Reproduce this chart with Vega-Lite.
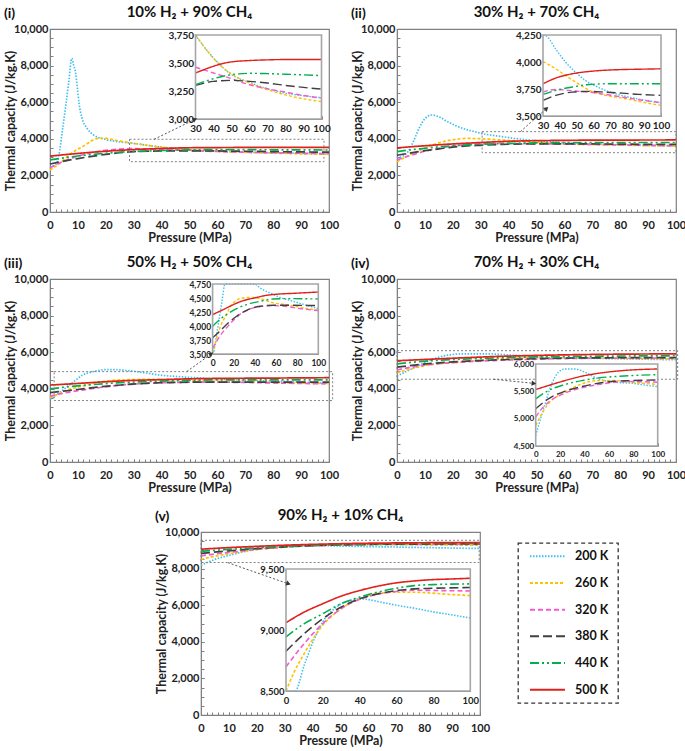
{
"$schema":"https://vega.github.io/schema/vega-lite/v6.json",
"padding":{"left":3,"top":4,"right":0,"bottom":0},
"background":"white",
"config":{
 "font":"Lato",
 "view":{"stroke":"#808080","strokeWidth":1.2},
 "axis":{"labelFont":"Lato","labelFontWeight":"bold","labelColor":"#222222","labelFontSize":11,"titleFont":"Lato","titleFontWeight":"bold","titleFontSize":12.5,"titleColor":"#222222","domainColor":"#808080","tickColor":"#808080","grid":false,"tickSize":-3,"labelPadding":5,"labelOverlap":false,"labelFlush":false,"tickCount":1000,"zindex":1},
 "title":{"font":"Lato","fontWeight":"bold","fontSize":15,"color":"#111111"}
},
"datasets":{
"temps":[{"T":"200 K"},{"T":"260 K"},{"T":"320 K"},{"T":"380 K"},{"T":"440 K"},{"T":"500 K"}],
"d1":[
{"P":0,"T":"200 K","C":2450},{"P":1.5,"T":"200 K","C":2550},{"P":2.5,"T":"200 K","C":2700},{"P":3.2,"T":"200 K","C":3100},{"P":4.4,"T":"200 K","C":4400},{"P":5.6,"T":"200 K","C":5750},{"P":6.8,"T":"200 K","C":7210},{"P":7.8,"T":"200 K","C":8400},{"P":8.5,"T":"200 K","C":8000},{"P":9.2,"T":"200 K","C":7580},{"P":9.75,"T":"200 K","C":6850},{"P":10.4,"T":"200 K","C":5940},{"P":11.5,"T":"200 K","C":5120},{"P":13.3,"T":"200 K","C":4570},{"P":15.7,"T":"200 K","C":4200},{"P":19.3,"T":"200 K","C":3990},{"P":24,"T":"200 K","C":3850},{"P":30,"T":"200 K","C":3750},{"P":35,"T":"200 K","C":3640},{"P":40,"T":"200 K","C":3546},{"P":45,"T":"200 K","C":3462},{"P":50,"T":"200 K","C":3396},{"P":60,"T":"200 K","C":3327},{"P":70,"T":"200 K","C":3270},{"P":80,"T":"200 K","C":3231},{"P":90,"T":"200 K","C":3207},{"P":100,"T":"200 K","C":3190},
{"P":0,"T":"260 K","C":2300},{"P":3,"T":"260 K","C":2600},{"P":6,"T":"260 K","C":3000},{"P":9,"T":"260 K","C":3350},{"P":12,"T":"260 K","C":3600},{"P":15,"T":"260 K","C":3900},{"P":17.5,"T":"260 K","C":4030},{"P":20,"T":"260 K","C":4020},{"P":25,"T":"260 K","C":3880},{"P":30,"T":"260 K","C":3750},{"P":35,"T":"260 K","C":3640},{"P":40,"T":"260 K","C":3540},{"P":45,"T":"260 K","C":3462},{"P":50,"T":"260 K","C":3402},{"P":60,"T":"260 K","C":3321},{"P":70,"T":"260 K","C":3261},{"P":80,"T":"260 K","C":3216},{"P":90,"T":"260 K","C":3180},{"P":100,"T":"260 K","C":3156},
{"P":0,"T":"320 K","C":2420},{"P":5,"T":"320 K","C":2780},{"P":10,"T":"320 K","C":3050},{"P":15,"T":"320 K","C":3250},{"P":20,"T":"320 K","C":3370},{"P":25,"T":"320 K","C":3440},{"P":30,"T":"320 K","C":3462},{"P":40,"T":"320 K","C":3411},{"P":50,"T":"320 K","C":3360},{"P":60,"T":"320 K","C":3306},{"P":70,"T":"320 K","C":3270},{"P":80,"T":"320 K","C":3240},{"P":90,"T":"320 K","C":3210},{"P":100,"T":"320 K","C":3186},
{"P":0,"T":"380 K","C":2620},{"P":5,"T":"380 K","C":2780},{"P":10,"T":"380 K","C":2920},{"P":15,"T":"380 K","C":3040},{"P":20,"T":"380 K","C":3150},{"P":25,"T":"380 K","C":3240},{"P":30,"T":"380 K","C":3300},{"P":40,"T":"380 K","C":3336},{"P":50,"T":"380 K","C":3345},{"P":60,"T":"380 K","C":3336},{"P":70,"T":"380 K","C":3321},{"P":80,"T":"380 K","C":3300},{"P":90,"T":"380 K","C":3282},{"P":100,"T":"380 K","C":3267},
{"P":0,"T":"440 K","C":2850},{"P":5,"T":"440 K","C":2960},{"P":10,"T":"440 K","C":3060},{"P":15,"T":"440 K","C":3140},{"P":20,"T":"440 K","C":3210},{"P":25,"T":"440 K","C":3265},{"P":30,"T":"440 K","C":3306},{"P":40,"T":"440 K","C":3360},{"P":50,"T":"440 K","C":3396},{"P":60,"T":"440 K","C":3408},{"P":70,"T":"440 K","C":3405},{"P":80,"T":"440 K","C":3400},{"P":90,"T":"440 K","C":3394},{"P":100,"T":"440 K","C":3387},
{"P":0,"T":"500 K","C":3050},{"P":5,"T":"500 K","C":3130},{"P":10,"T":"500 K","C":3200},{"P":15,"T":"500 K","C":3265},{"P":20,"T":"500 K","C":3320},{"P":25,"T":"500 K","C":3370},{"P":30,"T":"500 K","C":3411},{"P":40,"T":"500 K","C":3471},{"P":45,"T":"500 K","C":3495},{"P":50,"T":"500 K","C":3510},{"P":60,"T":"500 K","C":3522},{"P":70,"T":"500 K","C":3528},{"P":80,"T":"500 K","C":3531},{"P":90,"T":"500 K","C":3531},{"P":100,"T":"500 K","C":3531}
],
"d2":[
{"P":0,"T":"200 K","C":2950},{"P":2,"T":"200 K","C":3050},{"P":4,"T":"200 K","C":3300},{"P":6,"T":"200 K","C":3900},{"P":8,"T":"200 K","C":4600},{"P":10,"T":"200 K","C":5100},{"P":12.5,"T":"200 K","C":5300},{"P":15,"T":"200 K","C":5200},{"P":18,"T":"200 K","C":4950},{"P":21,"T":"200 K","C":4720},{"P":25,"T":"200 K","C":4500},{"P":28,"T":"200 K","C":4380},{"P":30,"T":"200 K","C":4300},{"P":32,"T":"200 K","C":4240},{"P":37.5,"T":"200 K","C":4121},{"P":43.4,"T":"200 K","C":3998},{"P":49.3,"T":"200 K","C":3906},{"P":55.2,"T":"200 K","C":3829},{"P":61.2,"T":"200 K","C":3777},{"P":67.1,"T":"200 K","C":3737},{"P":73,"T":"200 K","C":3706},{"P":80.9,"T":"200 K","C":3675},{"P":88.8,"T":"200 K","C":3651},{"P":100,"T":"200 K","C":3623},
{"P":0,"T":"260 K","C":2750},{"P":5,"T":"260 K","C":3150},{"P":10,"T":"260 K","C":3500},{"P":15,"T":"260 K","C":3780},{"P":20,"T":"260 K","C":3950},{"P":25,"T":"260 K","C":4020},{"P":30,"T":"260 K","C":4004},{"P":37.5,"T":"260 K","C":3937},{"P":43.4,"T":"260 K","C":3875},{"P":49.3,"T":"260 K","C":3814},{"P":55.2,"T":"260 K","C":3758},{"P":61.2,"T":"260 K","C":3715},{"P":67.1,"T":"260 K","C":3691},{"P":73,"T":"260 K","C":3675},{"P":80.9,"T":"260 K","C":3654},{"P":88.8,"T":"260 K","C":3629},{"P":100,"T":"260 K","C":3598},
{"P":0,"T":"320 K","C":2850},{"P":5,"T":"320 K","C":3100},{"P":10,"T":"320 K","C":3320},{"P":15,"T":"320 K","C":3480},{"P":20,"T":"320 K","C":3600},{"P":25,"T":"320 K","C":3680},{"P":30,"T":"320 K","C":3721},{"P":33.5,"T":"320 K","C":3737},{"P":37.5,"T":"320 K","C":3746},{"P":43.4,"T":"320 K","C":3740},{"P":49.3,"T":"320 K","C":3731},{"P":57.2,"T":"320 K","C":3721},{"P":67.1,"T":"320 K","C":3700},{"P":77,"T":"320 K","C":3675},{"P":86.8,"T":"320 K","C":3651},{"P":100,"T":"320 K","C":3623},
{"P":0,"T":"380 K","C":3100},{"P":5,"T":"380 K","C":3230},{"P":10,"T":"380 K","C":3350},{"P":15,"T":"380 K","C":3450},{"P":20,"T":"380 K","C":3550},{"P":25,"T":"380 K","C":3610},{"P":30,"T":"380 K","C":3645},{"P":37.5,"T":"380 K","C":3691},{"P":47.4,"T":"380 K","C":3721},{"P":57.2,"T":"380 K","C":3728},{"P":67.1,"T":"380 K","C":3721},{"P":77,"T":"380 K","C":3712},{"P":86.8,"T":"380 K","C":3700},{"P":100,"T":"380 K","C":3691},
{"P":0,"T":"440 K","C":3300},{"P":5,"T":"440 K","C":3400},{"P":10,"T":"440 K","C":3480},{"P":15,"T":"440 K","C":3560},{"P":20,"T":"440 K","C":3620},{"P":25,"T":"440 K","C":3665},{"P":30,"T":"440 K","C":3700},{"P":37.5,"T":"440 K","C":3737},{"P":47.4,"T":"440 K","C":3768},{"P":57.2,"T":"440 K","C":3792},{"P":67.1,"T":"440 K","C":3798},{"P":77,"T":"440 K","C":3798},{"P":100,"T":"440 K","C":3798},
{"P":0,"T":"500 K","C":3500},{"P":5,"T":"500 K","C":3565},{"P":10,"T":"500 K","C":3620},{"P":15,"T":"500 K","C":3675},{"P":20,"T":"500 K","C":3720},{"P":25,"T":"500 K","C":3760},{"P":30,"T":"500 K","C":3798},{"P":37.5,"T":"500 K","C":3851},{"P":47.4,"T":"500 K","C":3891},{"P":57.2,"T":"500 K","C":3912},{"P":67.1,"T":"500 K","C":3924},{"P":77,"T":"500 K","C":3930},{"P":86.8,"T":"500 K","C":3933},{"P":100,"T":"500 K","C":3937}
],
"d3":[
{"P":0,"T":"200 K","C":3420},{"P":1,"T":"200 K","C":3530},{"P":3,"T":"200 K","C":3750},{"P":6,"T":"200 K","C":4100},{"P":9,"T":"200 K","C":4450},{"P":11.7,"T":"200 K","C":4750},{"P":14,"T":"200 K","C":4880},{"P":17,"T":"200 K","C":4990},{"P":20,"T":"200 K","C":5050},{"P":23,"T":"200 K","C":5050},{"P":26,"T":"200 K","C":5020},{"P":30,"T":"200 K","C":4960},{"P":35,"T":"200 K","C":4850},{"P":39.4,"T":"200 K","C":4750},{"P":44.8,"T":"200 K","C":4680},{"P":50,"T":"200 K","C":4625},{"P":54.3,"T":"200 K","C":4589},{"P":63.7,"T":"200 K","C":4512},{"P":76.3,"T":"200 K","C":4441},{"P":88.9,"T":"200 K","C":4370},{"P":100,"T":"200 K","C":4311},
{"P":0,"T":"260 K","C":3506},{"P":3,"T":"260 K","C":3720},{"P":6.9,"T":"260 K","C":3968},{"P":10,"T":"260 K","C":4100},{"P":13.2,"T":"260 K","C":4204},{"P":16,"T":"260 K","C":4320},{"P":19.6,"T":"260 K","C":4412},{"P":25.9,"T":"260 K","C":4489},{"P":35.3,"T":"260 K","C":4512},{"P":44.8,"T":"260 K","C":4489},{"P":57.4,"T":"260 K","C":4412},{"P":70,"T":"260 K","C":4382},{"P":82.6,"T":"260 K","C":4335},{"P":100,"T":"260 K","C":4281},
{"P":0,"T":"320 K","C":3600},{"P":3,"T":"320 K","C":3700},{"P":6.9,"T":"320 K","C":3820},{"P":10,"T":"320 K","C":3900},{"P":13.2,"T":"320 K","C":3968},{"P":18,"T":"320 K","C":4070},{"P":22.7,"T":"320 K","C":4157},{"P":27,"T":"320 K","C":4225},{"P":32.2,"T":"320 K","C":4275},{"P":38,"T":"320 K","C":4320},{"P":44.8,"T":"320 K","C":4347},{"P":57.4,"T":"320 K","C":4364},{"P":70,"T":"320 K","C":4347},{"P":82.6,"T":"320 K","C":4311},{"P":100,"T":"320 K","C":4275},
{"P":0,"T":"380 K","C":3790},{"P":6.9,"T":"380 K","C":3908},{"P":13.2,"T":"380 K","C":4027},{"P":22.7,"T":"380 K","C":4175},{"P":32.2,"T":"380 K","C":4281},{"P":44.8,"T":"380 K","C":4352},{"P":57.4,"T":"380 K","C":4370},{"P":70,"T":"380 K","C":4370},{"P":100,"T":"380 K","C":4364},
{"P":0,"T":"440 K","C":3997},{"P":6.9,"T":"440 K","C":4116},{"P":13.2,"T":"440 K","C":4204},{"P":22.7,"T":"440 K","C":4311},{"P":32.2,"T":"440 K","C":4382},{"P":44.8,"T":"440 K","C":4441},{"P":57.4,"T":"440 K","C":4483},{"P":70,"T":"440 K","C":4489},{"P":100,"T":"440 K","C":4483},
{"P":0,"T":"500 K","C":4204},{"P":10.1,"T":"500 K","C":4293},{"P":19.6,"T":"500 K","C":4382},{"P":29,"T":"500 K","C":4453},{"P":39.4,"T":"500 K","C":4500},{"P":51.1,"T":"500 K","C":4548},{"P":63.7,"T":"500 K","C":4572},{"P":76.3,"T":"500 K","C":4583},{"P":100,"T":"500 K","C":4607}
],
"d4":[
{"P":0,"T":"200 K","C":4694},{"P":3.6,"T":"200 K","C":4968},{"P":7.7,"T":"200 K","C":5272},{"P":13.1,"T":"200 K","C":5636},{"P":18.6,"T":"200 K","C":5849},{"P":24,"T":"200 K","C":5909},{"P":32.2,"T":"200 K","C":5909},{"P":40.4,"T":"200 K","C":5849},{"P":51.4,"T":"200 K","C":5727},{"P":65,"T":"200 K","C":5666},{"P":78.7,"T":"200 K","C":5648},{"P":92.3,"T":"200 K","C":5606},{"P":100,"T":"200 K","C":5587},
{"P":0,"T":"260 K","C":4877},{"P":4.9,"T":"260 K","C":5089},{"P":10.4,"T":"260 K","C":5272},{"P":24,"T":"260 K","C":5484},{"P":37.7,"T":"260 K","C":5636},{"P":51.4,"T":"260 K","C":5697},{"P":65,"T":"260 K","C":5697},{"P":78.7,"T":"260 K","C":5666},{"P":100,"T":"260 K","C":5624},
{"P":0,"T":"320 K","C":5028},{"P":4.9,"T":"320 K","C":5180},{"P":10.4,"T":"320 K","C":5302},{"P":24,"T":"320 K","C":5466},{"P":37.7,"T":"320 K","C":5563},{"P":51.4,"T":"320 K","C":5624},{"P":65,"T":"320 K","C":5666},{"P":78.7,"T":"320 K","C":5679},{"P":100,"T":"320 K","C":5666},
{"P":0,"T":"380 K","C":5180},{"P":10.4,"T":"380 K","C":5363},{"P":24,"T":"380 K","C":5502},{"P":37.7,"T":"380 K","C":5587},{"P":51.4,"T":"380 K","C":5648},{"P":65,"T":"380 K","C":5685},{"P":78.7,"T":"380 K","C":5697},{"P":100,"T":"380 K","C":5709},
{"P":0,"T":"440 K","C":5363},{"P":10.4,"T":"440 K","C":5515},{"P":24,"T":"440 K","C":5624},{"P":37.7,"T":"440 K","C":5697},{"P":51.4,"T":"440 K","C":5745},{"P":65,"T":"440 K","C":5770},{"P":78.7,"T":"440 K","C":5788},{"P":100,"T":"440 K","C":5806},
{"P":0,"T":"500 K","C":5533},{"P":10.4,"T":"500 K","C":5606},{"P":24,"T":"500 K","C":5697},{"P":37.7,"T":"500 K","C":5776},{"P":51.4,"T":"500 K","C":5830},{"P":65,"T":"500 K","C":5867},{"P":78.7,"T":"500 K","C":5891},{"P":100,"T":"500 K","C":5909}
],
"d5":[
{"P":0,"T":"200 K","C":8180},{"P":2.5,"T":"200 K","C":8350},{"P":4.9,"T":"200 K","C":8500},{"P":9.9,"T":"200 K","C":8712},{"P":15.4,"T":"200 K","C":8929},{"P":19.9,"T":"200 K","C":9065},{"P":26.2,"T":"200 K","C":9174},{"P":33.5,"T":"200 K","C":9236},{"P":40.7,"T":"200 K","C":9255},{"P":44.3,"T":"200 K","C":9250},{"P":51.5,"T":"200 K","C":9228},{"P":60.6,"T":"200 K","C":9201},{"P":69.6,"T":"200 K","C":9179},{"P":78.7,"T":"200 K","C":9152},{"P":89.5,"T":"200 K","C":9125},{"P":100,"T":"200 K","C":9098},
{"P":0,"T":"260 K","C":8500},{"P":4.5,"T":"260 K","C":8658},{"P":9.9,"T":"260 K","C":8807},{"P":19.9,"T":"260 K","C":9038},{"P":29.8,"T":"260 K","C":9174},{"P":39.8,"T":"260 K","C":9255},{"P":49.7,"T":"260 K","C":9299},{"P":59.7,"T":"260 K","C":9310},{"P":69.6,"T":"260 K","C":9310},{"P":79.6,"T":"260 K","C":9302},{"P":89.5,"T":"260 K","C":9291},{"P":100,"T":"260 K","C":9282},
{"P":0,"T":"320 K","C":8698},{"P":9.9,"T":"320 K","C":8889},{"P":19.9,"T":"320 K","C":9052},{"P":29.8,"T":"320 K","C":9174},{"P":39.8,"T":"320 K","C":9250},{"P":49.7,"T":"320 K","C":9293},{"P":59.7,"T":"320 K","C":9315},{"P":69.6,"T":"320 K","C":9326},{"P":79.6,"T":"320 K","C":9324},{"P":100,"T":"320 K","C":9320},
{"P":0,"T":"380 K","C":8826},{"P":9.9,"T":"380 K","C":8970},{"P":19.9,"T":"380 K","C":9092},{"P":29.8,"T":"380 K","C":9187},{"P":39.8,"T":"380 K","C":9255},{"P":49.7,"T":"380 K","C":9296},{"P":59.7,"T":"380 K","C":9323},{"P":69.6,"T":"380 K","C":9337},{"P":79.6,"T":"380 K","C":9342},{"P":100,"T":"380 K","C":9348},
{"P":0,"T":"440 K","C":8943},{"P":9.9,"T":"440 K","C":9052},{"P":19.9,"T":"440 K","C":9133},{"P":29.8,"T":"440 K","C":9215},{"P":39.8,"T":"440 K","C":9269},{"P":49.7,"T":"440 K","C":9310},{"P":59.7,"T":"440 K","C":9342},{"P":69.6,"T":"440 K","C":9364},{"P":79.6,"T":"440 K","C":9372},{"P":100,"T":"440 K","C":9378},
{"P":0,"T":"500 K","C":9060},{"P":9.9,"T":"500 K","C":9147},{"P":19.9,"T":"500 K","C":9215},{"P":29.8,"T":"500 K","C":9277},{"P":39.8,"T":"500 K","C":9323},{"P":49.7,"T":"500 K","C":9359},{"P":59.7,"T":"500 K","C":9386},{"P":69.6,"T":"500 K","C":9402},{"P":79.6,"T":"500 K","C":9413},{"P":89.5,"T":"500 K","C":9418},{"P":100,"T":"500 K","C":9424}
]
},
"spacing":12,
"vconcat":[
{"spacing":9,"vconcat":[
{"spacing":10,"hconcat":[
{"title":{"text":"(i)","anchor":"start","frame":"bounds","offset":-17,"fontSize":14},
 "vconcat":[{"width":279,"height":183,"title":{"text":"10% H₂ + 90% CH₄","offset":3},
 "resolve":{"scale":{"x":"independent","y":"independent"}},
 "layer":[
  {"layer":[
   {"data":{"name":"d1"},"mark":{"type":"line","interpolate":"monotone","strokeWidth":1.7},"encoding":{
     "x":{"field":"P","type":"quantitative","title":"Pressure (MPa)","scale":{"domain":[0,100],"nice":false},"axis":{"values":[0,10,20,30,40,50,60,70,80,90,100],"tickCount":1000,"format":"d","labelOverlap":false,"labelFlush":false,"labelPadding":10,"titlePadding":1}},
     "y":{"field":"C","type":"quantitative","title":"Thermal capacity (J/kg.K)","scale":{"domain":[0,10000],"nice":false},"axis":{"values":[0,2000,4000,6000,8000,10000],"tickCount":1000,"format":",d","labelOverlap":false,"labelFlush":false,"titlePadding":-4}},
     "color":{"field":"T","type":"nominal","scale":{"domain":["200 K","260 K","320 K","380 K","440 K","500 K"],"range":["#3ec0f0","#ffc000","#f25bd2","#404040","#00b050","#e0201b"]},"legend":null},
     "strokeDash":{"field":"T","type":"nominal","scale":{"domain":["200 K","260 K","320 K","380 K","440 K","500 K"],"range":[[1.5,1.5],[3,2],[5,3],[9,4],[9,3,2,3,2,3],[1,0]]},"legend":null}}},
   {"data":{"values":[{"P":28.5,"P2":98.2,"C":2750,"C2":3975}]},"mark":{"type":"rect","fillOpacity":0,"stroke":"#808080","strokeDash":[2,2],"strokeWidth":1},"encoding":{
     "x":{"field":"P","type":"quantitative","title":"Pressure (MPa)","scale":{"domain":[0,100],"nice":false}},"x2":{"field":"P2"},
     "y":{"field":"C","type":"quantitative","title":"Thermal capacity (J/kg.K)","scale":{"domain":[0,10000],"nice":false}},"y2":{"field":"C2"}}}
  ]},
  {"layer":[
   {"data":{"values":[{"P":30,"P2":100,"C":3000,"C2":3750}]},"mark":{"type":"rect","fill":"white","strokeWidth":0},"encoding":{
     "x":{"field":"P","type":"quantitative","title":null,"scale":{"domain":[30,100],"range":[145.5,271.5],"nice":false,"zero":false},"axis":{"orient":"bottom","offset":-93,"values":[30,40,50,60,70,80,90,100],"tickCount":1000,"format":"d","labelOverlap":false,"labelFlush":false,"labelFontSize":10,"labelPadding":7}},"x2":{"field":"P2"},
     "y":{"field":"C","type":"quantitative","title":null,"scale":{"domain":[3000,3750],"range":[90,6],"nice":false,"zero":false,"clamp":true},"axis":{"orient":"left","offset":-145.5,"values":[3000,3250,3500,3750],"tickCount":1000,"format":",d","labelOverlap":false,"labelFlush":false,"labelFontSize":10,"labelPadding":5}},"y2":{"field":"C2"}}},
   {"data":{"name":"d1"},"transform":[{"filter":"datum.P >= 30"}],"mark":{"type":"line","interpolate":"monotone","strokeWidth":1.4},"encoding":{
     "x":{"field":"P","type":"quantitative","title":null,"scale":{"domain":[30,100],"range":[145.5,271.5],"nice":false,"zero":false}},
     "y":{"field":"C","type":"quantitative","title":null,"scale":{"domain":[3000,3750],"range":[90,6],"nice":false,"zero":false,"clamp":true}},
     "color":{"field":"T","type":"nominal","scale":{"domain":["200 K","260 K","320 K","380 K","440 K","500 K"],"range":["#3ec0f0","#ffc000","#f25bd2","#404040","#00b050","#e0201b"]},"legend":null},
     "strokeDash":{"field":"T","type":"nominal","scale":{"domain":["200 K","260 K","320 K","380 K","440 K","500 K"],"range":[[1.5,1.5],[3,2],[5,3],[9,4],[9,3,2,3,2,3],[1,0]]},"legend":null}}}
  ]},
  {"data":{"values":[{"P":30,"P2":100,"C":3000,"C2":3750}]},"mark":{"type":"rect","fillOpacity":0,"stroke":"#a6a6a6","strokeWidth":1.6},"encoding":{
     "x":{"field":"P","type":"quantitative","scale":{"domain":[30,100],"range":[145.5,271.5],"nice":false,"zero":false},"axis":{"orient":"bottom","offset":-93,"title":null,"labels":false,"domain":false,"tickCount":1000,"values":[30,32,34,36,38,40,42,44,46,48,50,52,54,56,58,60,62,64,66,68,70,72,74,76,78,80,82,84,86,88,90,92,94,96,98,100]}},"x2":{"field":"P2"},
     "y":{"field":"C","type":"quantitative","scale":{"domain":[3000,3750],"range":[90,6],"nice":false,"zero":false},"axis":{"orient":"left","offset":-145.5,"title":null,"labels":false,"domain":false,"tickCount":1000,"values":[3000,3050,3100,3150,3200,3250,3300,3350,3400,3450,3500,3550,3600,3650,3700,3750]}},"y2":{"field":"C2"}}},
  {"layer":[
   {"data":{"values":[{"P":37.3,"P2":51.7,"C":3973,"C2":5044}]},"mark":{"type":"rule","stroke":"#555555","strokeDash":[2,2],"strokeWidth":1},"encoding":{
     "x":{"field":"P","type":"quantitative","scale":{"domain":[0,100],"nice":false},"axis":{"orient":"bottom","title":null,"labels":false,"domain":false,"tickCount":1000,"values":[0,2,4,6,8,10,12,14,16,18,20,22,24,26,28,30,32,34,36,38,40,42,44,46,48,50,52,54,56,58,60,62,64,66,68,70,72,74,76,78,80,82,84,86,88,90,92,94,96,98,100]}},"x2":{"field":"P2"},
     "y":{"field":"C","type":"quantitative","scale":{"domain":[0,10000],"nice":false},"axis":{"orient":"left","title":null,"labels":false,"domain":false,"tickCount":1000,"values":[0,500,1000,1500,2000,2500,3000,3500,4000,4500,5000,5500,6000,6500,7000,7500,8000,8500,9000,9500,10000]}},"y2":{"field":"C2"}}},
   {"data":{"values":[{"P":51.7,"C":5044}]},"mark":{"type":"point","shape":"triangle","angle":64,"size":28,"filled":true,"color":"#333333","opacity":1},"encoding":{
     "x":{"field":"P","type":"quantitative","scale":{"domain":[0,100],"nice":false},"axis":{"orient":"bottom","title":null,"labels":false,"domain":false,"tickCount":1000,"values":[0,2,4,6,8,10,12,14,16,18,20,22,24,26,28,30,32,34,36,38,40,42,44,46,48,50,52,54,56,58,60,62,64,66,68,70,72,74,76,78,80,82,84,86,88,90,92,94,96,98,100]}},
     "y":{"field":"C","type":"quantitative","scale":{"domain":[0,10000],"nice":false},"axis":{"orient":"left","title":null,"labels":false,"domain":false,"tickCount":1000,"values":[0,500,1000,1500,2000,2500,3000,3500,4000,4500,5000,5500,6000,6500,7000,7500,8000,8500,9000,9500,10000]}}}}
  ]}
 ]}]},
{"title":{"text":"(ii)","anchor":"start","frame":"bounds","offset":-17,"fontSize":14},
 "vconcat":[{"width":279,"height":183,"title":{"text":"30% H₂ + 70% CH₄","offset":3},
 "resolve":{"scale":{"x":"independent","y":"independent"}},
 "layer":[
  {"layer":[
   {"data":{"name":"d2"},"mark":{"type":"line","interpolate":"monotone","strokeWidth":1.7},"encoding":{
     "x":{"field":"P","type":"quantitative","title":"Pressure (MPa)","scale":{"domain":[0,100],"nice":false},"axis":{"values":[0,10,20,30,40,50,60,70,80,90,100],"tickCount":1000,"format":"d","labelOverlap":false,"labelFlush":false,"labelPadding":10,"titlePadding":1}},
     "y":{"field":"C","type":"quantitative","title":"Thermal capacity (J/kg.K)","scale":{"domain":[0,10000],"nice":false},"axis":{"values":[0,2000,4000,6000,8000,10000],"tickCount":1000,"format":",d","labelOverlap":false,"labelFlush":false,"titlePadding":-4}},
     "color":{"field":"T","type":"nominal","scale":{"domain":["200 K","260 K","320 K","380 K","440 K","500 K"],"range":["#3ec0f0","#ffc000","#f25bd2","#404040","#00b050","#e0201b"]},"legend":null},
     "strokeDash":{"field":"T","type":"nominal","scale":{"domain":["200 K","260 K","320 K","380 K","440 K","500 K"],"range":[[1.5,1.5],[3,2],[5,3],[9,4],[9,3,2,3,2,3],[1,0]]},"legend":null}}},
   {"data":{"values":[{"P":30.5,"P2":100,"C":3240,"C2":4390}]},"mark":{"type":"rect","fillOpacity":0,"stroke":"#808080","strokeDash":[2,2],"strokeWidth":1},"encoding":{
     "x":{"field":"P","type":"quantitative","title":"Pressure (MPa)","scale":{"domain":[0,100],"nice":false}},"x2":{"field":"P2"},
     "y":{"field":"C","type":"quantitative","title":"Thermal capacity (J/kg.K)","scale":{"domain":[0,10000],"nice":false}},"y2":{"field":"C2"}}}
  ]},
  {"layer":[
   {"data":{"values":[{"P":30,"P2":100,"C":3500,"C2":4250}]},"mark":{"type":"rect","fill":"white","strokeWidth":0},"encoding":{
     "x":{"field":"P","type":"quantitative","title":null,"scale":{"domain":[30,100],"range":[146,264],"nice":false,"zero":false},"axis":{"orient":"bottom","offset":-96,"values":[30,40,50,60,70,80,90,100],"tickCount":1000,"format":"d","labelOverlap":false,"labelFlush":false,"labelFontSize":10,"labelPadding":7}},"x2":{"field":"P2"},
     "y":{"field":"C","type":"quantitative","title":null,"scale":{"domain":[3500,4250],"range":[87,6],"nice":false,"zero":false,"clamp":true},"axis":{"orient":"left","offset":-146,"values":[3500,3750,4000,4250],"tickCount":1000,"format":",d","labelOverlap":false,"labelFlush":false,"labelFontSize":10,"labelPadding":5}},"y2":{"field":"C2"}}},
   {"data":{"name":"d2"},"transform":[{"filter":"datum.P >= 30"}],"mark":{"type":"line","interpolate":"monotone","strokeWidth":1.4},"encoding":{
     "x":{"field":"P","type":"quantitative","title":null,"scale":{"domain":[30,100],"range":[146,264],"nice":false,"zero":false}},
     "y":{"field":"C","type":"quantitative","title":null,"scale":{"domain":[3500,4250],"range":[87,6],"nice":false,"zero":false,"clamp":true}},
     "color":{"field":"T","type":"nominal","scale":{"domain":["200 K","260 K","320 K","380 K","440 K","500 K"],"range":["#3ec0f0","#ffc000","#f25bd2","#404040","#00b050","#e0201b"]},"legend":null},
     "strokeDash":{"field":"T","type":"nominal","scale":{"domain":["200 K","260 K","320 K","380 K","440 K","500 K"],"range":[[1.5,1.5],[3,2],[5,3],[9,4],[9,3,2,3,2,3],[1,0]]},"legend":null}}}
  ]},
  {"data":{"values":[{"P":30,"P2":100,"C":3500,"C2":4250}]},"mark":{"type":"rect","fillOpacity":0,"stroke":"#a6a6a6","strokeWidth":1.6},"encoding":{
     "x":{"field":"P","type":"quantitative","scale":{"domain":[30,100],"range":[146,264],"nice":false,"zero":false},"axis":{"orient":"bottom","offset":-96,"title":null,"labels":false,"domain":false,"tickCount":1000,"values":[30,32,34,36,38,40,42,44,46,48,50,52,54,56,58,60,62,64,66,68,70,72,74,76,78,80,82,84,86,88,90,92,94,96,98,100]}},"x2":{"field":"P2"},
     "y":{"field":"C","type":"quantitative","scale":{"domain":[3500,4250],"range":[87,6],"nice":false,"zero":false},"axis":{"orient":"left","offset":-146,"title":null,"labels":false,"domain":false,"tickCount":1000,"values":[3500,3550,3600,3650,3700,3750,3800,3850,3900,3950,4000,4050,4100,4150,4200,4250]}},"y2":{"field":"C2"}}},
  {"layer":[
   {"data":{"values":[{"P":44.2,"P2":53.4,"C":4388,"C2":5628}]},"mark":{"type":"rule","stroke":"#555555","strokeDash":[2,2],"strokeWidth":1},"encoding":{
     "x":{"field":"P","type":"quantitative","scale":{"domain":[0,100],"nice":false},"axis":{"orient":"bottom","title":null,"labels":false,"domain":false,"tickCount":1000,"values":[0,2,4,6,8,10,12,14,16,18,20,22,24,26,28,30,32,34,36,38,40,42,44,46,48,50,52,54,56,58,60,62,64,66,68,70,72,74,76,78,80,82,84,86,88,90,92,94,96,98,100]}},"x2":{"field":"P2"},
     "y":{"field":"C","type":"quantitative","scale":{"domain":[0,10000],"nice":false},"axis":{"orient":"left","title":null,"labels":false,"domain":false,"tickCount":1000,"values":[0,500,1000,1500,2000,2500,3000,3500,4000,4500,5000,5500,6000,6500,7000,7500,8000,8500,9000,9500,10000]}},"y2":{"field":"C2"}}},
   {"data":{"values":[{"P":53.4,"C":5628}]},"mark":{"type":"point","shape":"triangle","angle":48,"size":28,"filled":true,"color":"#333333","opacity":1},"encoding":{
     "x":{"field":"P","type":"quantitative","scale":{"domain":[0,100],"nice":false},"axis":{"orient":"bottom","title":null,"labels":false,"domain":false,"tickCount":1000,"values":[0,2,4,6,8,10,12,14,16,18,20,22,24,26,28,30,32,34,36,38,40,42,44,46,48,50,52,54,56,58,60,62,64,66,68,70,72,74,76,78,80,82,84,86,88,90,92,94,96,98,100]}},
     "y":{"field":"C","type":"quantitative","scale":{"domain":[0,10000],"nice":false},"axis":{"orient":"left","title":null,"labels":false,"domain":false,"tickCount":1000,"values":[0,500,1000,1500,2000,2500,3000,3500,4000,4500,5000,5500,6000,6500,7000,7500,8000,8500,9000,9500,10000]}}}}
  ]}
 ]}]}
]},
{"spacing":10,"hconcat":[
{"title":{"text":"(iii)","anchor":"start","frame":"bounds","offset":-17,"fontSize":14},
 "vconcat":[{"width":279,"height":183,"title":{"text":"50% H₂ + 50% CH₄","offset":3},
 "resolve":{"scale":{"x":"independent","y":"independent"}},
 "layer":[
  {"layer":[
   {"data":{"name":"d3"},"mark":{"type":"line","interpolate":"monotone","strokeWidth":1.7},"encoding":{
     "x":{"field":"P","type":"quantitative","title":"Pressure (MPa)","scale":{"domain":[0,100],"nice":false},"axis":{"values":[0,10,20,30,40,50,60,70,80,90,100],"tickCount":1000,"format":"d","labelOverlap":false,"labelFlush":false,"labelPadding":10,"titlePadding":1}},
     "y":{"field":"C","type":"quantitative","title":"Thermal capacity (J/kg.K)","scale":{"domain":[0,10000],"nice":false},"axis":{"values":[0,2000,4000,6000,8000,10000],"tickCount":1000,"format":",d","labelOverlap":false,"labelFlush":false,"titlePadding":-4}},
     "color":{"field":"T","type":"nominal","scale":{"domain":["200 K","260 K","320 K","380 K","440 K","500 K"],"range":["#3ec0f0","#ffc000","#f25bd2","#404040","#00b050","#e0201b"]},"legend":null},
     "strokeDash":{"field":"T","type":"nominal","scale":{"domain":["200 K","260 K","320 K","380 K","440 K","500 K"],"range":[[1.5,1.5],[3,2],[5,3],[9,4],[9,3,2,3,2,3],[1,0]]},"legend":null}}},
   {"data":{"values":[{"P":1.5,"P2":101.3,"C":3357,"C2":4937}]},"mark":{"type":"rect","fillOpacity":0,"stroke":"#808080","strokeDash":[2,2],"strokeWidth":1},"encoding":{
     "x":{"field":"P","type":"quantitative","title":"Pressure (MPa)","scale":{"domain":[0,100],"nice":false}},"x2":{"field":"P2"},
     "y":{"field":"C","type":"quantitative","title":"Thermal capacity (J/kg.K)","scale":{"domain":[0,10000],"nice":false}},"y2":{"field":"C2"}}}
  ]},
  {"layer":[
   {"data":{"values":[{"P":0,"P2":100,"C":3500,"C2":4750}]},"mark":{"type":"rect","fill":"white","strokeWidth":0},"encoding":{
     "x":{"field":"P","type":"quantitative","title":null,"scale":{"domain":[0,100],"range":[162.6,268.3],"nice":false,"zero":false},"axis":{"orient":"bottom","offset":-108,"values":[0,20,40,60,80,100],"tickCount":1000,"format":"d","labelOverlap":false,"labelFlush":false,"labelFontSize":8.5,"labelPadding":7}},"x2":{"field":"P2"},
     "y":{"field":"C","type":"quantitative","title":null,"scale":{"domain":[3500,4750],"range":[75,5],"nice":false,"zero":false,"clamp":true},"axis":{"orient":"left","offset":-162.6,"values":[3500,3750,4000,4250,4500,4750],"tickCount":1000,"format":",d","labelOverlap":false,"labelFlush":false,"labelFontSize":8.5,"labelPadding":5}},"y2":{"field":"C2"}}},
   {"data":{"name":"d3"},"mark":{"type":"line","interpolate":"monotone","strokeWidth":1.4},"encoding":{
     "x":{"field":"P","type":"quantitative","title":null,"scale":{"domain":[0,100],"range":[162.6,268.3],"nice":false,"zero":false}},
     "y":{"field":"C","type":"quantitative","title":null,"scale":{"domain":[3500,4750],"range":[75,5],"nice":false,"zero":false,"clamp":true}},
     "color":{"field":"T","type":"nominal","scale":{"domain":["200 K","260 K","320 K","380 K","440 K","500 K"],"range":["#3ec0f0","#ffc000","#f25bd2","#404040","#00b050","#e0201b"]},"legend":null},
     "strokeDash":{"field":"T","type":"nominal","scale":{"domain":["200 K","260 K","320 K","380 K","440 K","500 K"],"range":[[1.5,1.5],[3,2],[5,3],[9,4],[9,3,2,3,2,3],[1,0]]},"legend":null}}}
  ]},
  {"data":{"values":[{"P":0,"P2":100,"C":3500,"C2":4750}]},"mark":{"type":"rect","fillOpacity":0,"stroke":"#a6a6a6","strokeWidth":1.6},"encoding":{
     "x":{"field":"P","type":"quantitative","scale":{"domain":[0,100],"range":[162.6,268.3],"nice":false,"zero":false},"axis":{"orient":"bottom","offset":-108,"title":null,"labels":false,"domain":false,"tickCount":1000,"values":[0,5,10,15,20,25,30,35,40,45,50,55,60,65,70,75,80,85,90,95,100]}},"x2":{"field":"P2"},
     "y":{"field":"C","type":"quantitative","scale":{"domain":[3500,4750],"range":[75,5],"nice":false,"zero":false},"axis":{"orient":"left","offset":-162.6,"title":null,"labels":false,"domain":false,"tickCount":1000,"values":[3500,3550,3600,3650,3700,3750,3800,3850,3900,3950,4000,4050,4100,4150,4200,4250,4300,4350,4400,4450,4500,4550,4600,4650,4700,4750]}},"y2":{"field":"C2"}}},
  {"layer":[
   {"data":{"values":[{"P":49,"P2":57.6,"C":4937,"C2":5885}]},"mark":{"type":"rule","stroke":"#555555","strokeDash":[2,2],"strokeWidth":1},"encoding":{
     "x":{"field":"P","type":"quantitative","scale":{"domain":[0,100],"nice":false},"axis":{"orient":"bottom","title":null,"labels":false,"domain":false,"tickCount":1000,"values":[0,2,4,6,8,10,12,14,16,18,20,22,24,26,28,30,32,34,36,38,40,42,44,46,48,50,52,54,56,58,60,62,64,66,68,70,72,74,76,78,80,82,84,86,88,90,92,94,96,98,100]}},"x2":{"field":"P2"},
     "y":{"field":"C","type":"quantitative","scale":{"domain":[0,10000],"nice":false},"axis":{"orient":"left","title":null,"labels":false,"domain":false,"tickCount":1000,"values":[0,500,1000,1500,2000,2500,3000,3500,4000,4500,5000,5500,6000,6500,7000,7500,8000,8500,9000,9500,10000]}},"y2":{"field":"C2"}}},
   {"data":{"values":[{"P":57.6,"C":5885}]},"mark":{"type":"point","shape":"triangle","angle":55,"size":28,"filled":true,"color":"#333333","opacity":1},"encoding":{
     "x":{"field":"P","type":"quantitative","scale":{"domain":[0,100],"nice":false},"axis":{"orient":"bottom","title":null,"labels":false,"domain":false,"tickCount":1000,"values":[0,2,4,6,8,10,12,14,16,18,20,22,24,26,28,30,32,34,36,38,40,42,44,46,48,50,52,54,56,58,60,62,64,66,68,70,72,74,76,78,80,82,84,86,88,90,92,94,96,98,100]}},
     "y":{"field":"C","type":"quantitative","scale":{"domain":[0,10000],"nice":false},"axis":{"orient":"left","title":null,"labels":false,"domain":false,"tickCount":1000,"values":[0,500,1000,1500,2000,2500,3000,3500,4000,4500,5000,5500,6000,6500,7000,7500,8000,8500,9000,9500,10000]}}}}
  ]}
 ]}]},
{"title":{"text":"(iv)","anchor":"start","frame":"bounds","offset":-17,"fontSize":14},
 "vconcat":[{"width":279,"height":183,"title":{"text":"70% H₂ + 30% CH₄","offset":3},
 "resolve":{"scale":{"x":"independent","y":"independent"}},
 "layer":[
  {"layer":[
   {"data":{"name":"d4"},"mark":{"type":"line","interpolate":"monotone","strokeWidth":1.7},"encoding":{
     "x":{"field":"P","type":"quantitative","title":"Pressure (MPa)","scale":{"domain":[0,100],"nice":false},"axis":{"values":[0,10,20,30,40,50,60,70,80,90,100],"tickCount":1000,"format":"d","labelOverlap":false,"labelFlush":false,"labelPadding":10,"titlePadding":1}},
     "y":{"field":"C","type":"quantitative","title":"Thermal capacity (J/kg.K)","scale":{"domain":[0,10000],"nice":false},"axis":{"values":[0,2000,4000,6000,8000,10000],"tickCount":1000,"format":",d","labelOverlap":false,"labelFlush":false,"titlePadding":-4}},
     "color":{"field":"T","type":"nominal","scale":{"domain":["200 K","260 K","320 K","380 K","440 K","500 K"],"range":["#3ec0f0","#ffc000","#f25bd2","#404040","#00b050","#e0201b"]},"legend":null},
     "strokeDash":{"field":"T","type":"nominal","scale":{"domain":["200 K","260 K","320 K","380 K","440 K","500 K"],"range":[[1.5,1.5],[3,2],[5,3],[9,4],[9,3,2,3,2,3],[1,0]]},"legend":null}}},
   {"data":{"values":[{"P":0,"P2":100.6,"C":4522,"C2":6082}]},"mark":{"type":"rect","fillOpacity":0,"stroke":"#808080","strokeDash":[2,2],"strokeWidth":1},"encoding":{
     "x":{"field":"P","type":"quantitative","title":"Pressure (MPa)","scale":{"domain":[0,100],"nice":false}},"x2":{"field":"P2"},
     "y":{"field":"C","type":"quantitative","title":"Thermal capacity (J/kg.K)","scale":{"domain":[0,10000],"nice":false}},"y2":{"field":"C2"}}}
  ]},
  {"layer":[
   {"data":{"values":[{"P":0,"P2":100,"C":4500,"C2":6000}]},"mark":{"type":"rect","fill":"white","strokeWidth":0},"encoding":{
     "x":{"field":"P","type":"quantitative","title":null,"scale":{"domain":[0,100],"range":[138.7,260.7],"nice":false,"zero":false},"axis":{"orient":"bottom","offset":-16,"values":[0,20,40,60,80,100],"tickCount":1000,"format":"d","labelOverlap":false,"labelFlush":false,"labelFontSize":8,"labelPadding":7}},"x2":{"field":"P2"},
     "y":{"field":"C","type":"quantitative","title":null,"scale":{"domain":[4500,6000],"range":[167,85],"nice":false,"zero":false,"clamp":true},"axis":{"orient":"left","offset":-138.7,"values":[4500,5000,5500,6000],"tickCount":1000,"format":",d","labelOverlap":false,"labelFlush":false,"labelFontSize":8,"labelPadding":5}},"y2":{"field":"C2"}}},
   {"data":{"name":"d4"},"mark":{"type":"line","interpolate":"monotone","strokeWidth":1.4},"encoding":{
     "x":{"field":"P","type":"quantitative","title":null,"scale":{"domain":[0,100],"range":[138.7,260.7],"nice":false,"zero":false}},
     "y":{"field":"C","type":"quantitative","title":null,"scale":{"domain":[4500,6000],"range":[167,85],"nice":false,"zero":false,"clamp":true}},
     "color":{"field":"T","type":"nominal","scale":{"domain":["200 K","260 K","320 K","380 K","440 K","500 K"],"range":["#3ec0f0","#ffc000","#f25bd2","#404040","#00b050","#e0201b"]},"legend":null},
     "strokeDash":{"field":"T","type":"nominal","scale":{"domain":["200 K","260 K","320 K","380 K","440 K","500 K"],"range":[[1.5,1.5],[3,2],[5,3],[9,4],[9,3,2,3,2,3],[1,0]]},"legend":null}}}
  ]},
  {"data":{"values":[{"P":0,"P2":100,"C":4500,"C2":6000}]},"mark":{"type":"rect","fillOpacity":0,"stroke":"#a6a6a6","strokeWidth":1.6},"encoding":{
     "x":{"field":"P","type":"quantitative","scale":{"domain":[0,100],"range":[138.7,260.7],"nice":false,"zero":false},"axis":{"orient":"bottom","offset":-16,"title":null,"labels":false,"domain":false,"tickCount":1000,"values":[0,5,10,15,20,25,30,35,40,45,50,55,60,65,70,75,80,85,90,95,100]}},"x2":{"field":"P2"},
     "y":{"field":"C","type":"quantitative","scale":{"domain":[4500,6000],"range":[167,85],"nice":false,"zero":false},"axis":{"orient":"left","offset":-138.7,"title":null,"labels":false,"domain":false,"tickCount":1000,"values":[4500,4600,4700,4800,4900,5000,5100,5200,5300,5400,5500,5600,5700,5800,5900,6000]}},"y2":{"field":"C2"}}},
  {"layer":[
   {"data":{"values":[{"P":34.6,"P2":48.8,"C":4522,"C2":4300}]},"mark":{"type":"rule","stroke":"#555555","strokeDash":[2,2],"strokeWidth":1},"encoding":{
     "x":{"field":"P","type":"quantitative","scale":{"domain":[0,100],"nice":false},"axis":{"orient":"bottom","title":null,"labels":false,"domain":false,"tickCount":1000,"values":[0,2,4,6,8,10,12,14,16,18,20,22,24,26,28,30,32,34,36,38,40,42,44,46,48,50,52,54,56,58,60,62,64,66,68,70,72,74,76,78,80,82,84,86,88,90,92,94,96,98,100]}},"x2":{"field":"P2"},
     "y":{"field":"C","type":"quantitative","scale":{"domain":[0,10000],"nice":false},"axis":{"orient":"left","title":null,"labels":false,"domain":false,"tickCount":1000,"values":[0,500,1000,1500,2000,2500,3000,3500,4000,4500,5000,5500,6000,6500,7000,7500,8000,8500,9000,9500,10000]}},"y2":{"field":"C2"}}},
   {"data":{"values":[{"P":48.8,"C":4300}]},"mark":{"type":"point","shape":"triangle","angle":96,"size":28,"filled":true,"color":"#333333","opacity":1},"encoding":{
     "x":{"field":"P","type":"quantitative","scale":{"domain":[0,100],"nice":false},"axis":{"orient":"bottom","title":null,"labels":false,"domain":false,"tickCount":1000,"values":[0,2,4,6,8,10,12,14,16,18,20,22,24,26,28,30,32,34,36,38,40,42,44,46,48,50,52,54,56,58,60,62,64,66,68,70,72,74,76,78,80,82,84,86,88,90,92,94,96,98,100]}},
     "y":{"field":"C","type":"quantitative","scale":{"domain":[0,10000],"nice":false},"axis":{"orient":"left","title":null,"labels":false,"domain":false,"tickCount":1000,"values":[0,500,1000,1500,2000,2500,3000,3500,4000,4500,5000,5500,6000,6500,7000,7500,8000,8500,9000,9500,10000]}}}}
  ]}
 ]}]}
]}
]},
{"spacing":26,"hconcat":[
{"width":78,"height":1,"data":{"values":[]},"mark":"point","view":{"stroke":null}},
{"title":{"text":"(v)","anchor":"start","frame":"bounds","offset":-17,"fontSize":14},
 "vconcat":[{"width":279,"height":183,"title":{"text":"90% H₂ + 10% CH₄","offset":3},
 "resolve":{"scale":{"x":"independent","y":"independent"}},
 "layer":[
  {"layer":[
   {"data":{"name":"d5"},"mark":{"type":"line","interpolate":"monotone","strokeWidth":1.7},"encoding":{
     "x":{"field":"P","type":"quantitative","title":"Pressure (MPa)","scale":{"domain":[0,100],"nice":false},"axis":{"values":[0,10,20,30,40,50,60,70,80,90,100],"tickCount":1000,"format":"d","labelOverlap":false,"labelFlush":false,"labelPadding":10,"titlePadding":1}},
     "y":{"field":"C","type":"quantitative","title":"Thermal capacity (J/kg.K)","scale":{"domain":[0,10000],"nice":false},"axis":{"values":[0,2000,4000,6000,8000,10000],"tickCount":1000,"format":",d","labelOverlap":false,"labelFlush":false,"titlePadding":-4}},
     "color":{"field":"T","type":"nominal","scale":{"domain":["200 K","260 K","320 K","380 K","440 K","500 K"],"range":["#3ec0f0","#ffc000","#f25bd2","#404040","#00b050","#e0201b"]},"legend":null},
     "strokeDash":{"field":"T","type":"nominal","scale":{"domain":["200 K","260 K","320 K","380 K","440 K","500 K"],"range":[[1.5,1.5],[3,2],[5,3],[9,4],[9,3,2,3,2,3],[1,0]]},"legend":null}}},
   {"data":{"values":[{"P":0,"P2":99.7,"C":8330,"C2":9547}]},"mark":{"type":"rect","fillOpacity":0,"stroke":"#808080","strokeDash":[2,2],"strokeWidth":1},"encoding":{
     "x":{"field":"P","type":"quantitative","title":"Pressure (MPa)","scale":{"domain":[0,100],"nice":false}},"x2":{"field":"P2"},
     "y":{"field":"C","type":"quantitative","title":"Thermal capacity (J/kg.K)","scale":{"domain":[0,10000],"nice":false}},"y2":{"field":"C2"}}}
  ]},
  {"layer":[
   {"data":{"values":[{"P":0,"P2":100,"C":8500,"C2":9500}]},"mark":{"type":"rect","fill":"white","strokeWidth":0},"encoding":{
     "x":{"field":"P","type":"quantitative","title":null,"scale":{"domain":[0,100],"range":[85,269.3],"nice":false,"zero":false},"axis":{"orient":"bottom","offset":-24,"values":[0,20,40,60,80,100],"tickCount":1000,"format":"d","labelOverlap":false,"labelFlush":false,"labelFontSize":9.5,"labelPadding":7}},"x2":{"field":"P2"},
     "y":{"field":"C","type":"quantitative","title":null,"scale":{"domain":[8500,9500],"range":[159,37],"nice":false,"zero":false,"clamp":true},"axis":{"orient":"left","offset":-85,"values":[8500,9000,9500],"tickCount":1000,"format":",d","labelOverlap":false,"labelFlush":false,"labelFontSize":9.5,"labelPadding":5}},"y2":{"field":"C2"}}},
   {"data":{"name":"d5"},"mark":{"type":"line","interpolate":"monotone","strokeWidth":1.6},"encoding":{
     "x":{"field":"P","type":"quantitative","title":null,"scale":{"domain":[0,100],"range":[85,269.3],"nice":false,"zero":false}},
     "y":{"field":"C","type":"quantitative","title":null,"scale":{"domain":[8500,9500],"range":[159,37],"nice":false,"zero":false,"clamp":true}},
     "color":{"field":"T","type":"nominal","scale":{"domain":["200 K","260 K","320 K","380 K","440 K","500 K"],"range":["#3ec0f0","#ffc000","#f25bd2","#404040","#00b050","#e0201b"]},"legend":null},
     "strokeDash":{"field":"T","type":"nominal","scale":{"domain":["200 K","260 K","320 K","380 K","440 K","500 K"],"range":[[1.5,1.5],[3,2],[5,3],[9,4],[9,3,2,3,2,3],[1,0]]},"legend":null}}}
  ]},
  {"data":{"values":[{"P":0,"P2":100,"C":8500,"C2":9500}]},"mark":{"type":"rect","fillOpacity":0,"stroke":"#a6a6a6","strokeWidth":1.6},"encoding":{
     "x":{"field":"P","type":"quantitative","scale":{"domain":[0,100],"range":[85,269.3],"nice":false,"zero":false},"axis":{"orient":"bottom","offset":-24,"title":null,"labels":false,"domain":false,"tickCount":1000,"values":[0,5,10,15,20,25,30,35,40,45,50,55,60,65,70,75,80,85,90,95,100]}},"x2":{"field":"P2"},
     "y":{"field":"C","type":"quantitative","scale":{"domain":[8500,9500],"range":[159,37],"nice":false,"zero":false},"axis":{"orient":"left","offset":-85,"title":null,"labels":false,"domain":false,"tickCount":1000,"values":[8500,8550,8600,8650,8700,8750,8800,8850,8900,8950,9000,9050,9100,9150,9200,9250,9300,9350,9400,9450,9500]}},"y2":{"field":"C2"}}},
  {"layer":[
   {"data":{"values":[{"P":9.6,"P2":31.1,"C":8326,"C2":7181}]},"mark":{"type":"rule","stroke":"#555555","strokeDash":[2,2],"strokeWidth":1},"encoding":{
     "x":{"field":"P","type":"quantitative","scale":{"domain":[0,100],"nice":false},"axis":{"orient":"bottom","title":null,"labels":false,"domain":false,"tickCount":1000,"values":[0,2,4,6,8,10,12,14,16,18,20,22,24,26,28,30,32,34,36,38,40,42,44,46,48,50,52,54,56,58,60,62,64,66,68,70,72,74,76,78,80,82,84,86,88,90,92,94,96,98,100]}},"x2":{"field":"P2"},
     "y":{"field":"C","type":"quantitative","scale":{"domain":[0,10000],"nice":false},"axis":{"orient":"left","title":null,"labels":false,"domain":false,"tickCount":1000,"values":[0,500,1000,1500,2000,2500,3000,3500,4000,4500,5000,5500,6000,6500,7000,7500,8000,8500,9000,9500,10000]}},"y2":{"field":"C2"}}},
   {"data":{"values":[{"P":31.1,"C":7181}]},"mark":{"type":"point","shape":"triangle","angle":109,"size":28,"filled":true,"color":"#333333","opacity":1},"encoding":{
     "x":{"field":"P","type":"quantitative","scale":{"domain":[0,100],"nice":false},"axis":{"orient":"bottom","title":null,"labels":false,"domain":false,"tickCount":1000,"values":[0,2,4,6,8,10,12,14,16,18,20,22,24,26,28,30,32,34,36,38,40,42,44,46,48,50,52,54,56,58,60,62,64,66,68,70,72,74,76,78,80,82,84,86,88,90,92,94,96,98,100]}},
     "y":{"field":"C","type":"quantitative","scale":{"domain":[0,10000],"nice":false},"axis":{"orient":"left","title":null,"labels":false,"domain":false,"tickCount":1000,"values":[0,500,1000,1500,2000,2500,3000,3500,4000,4500,5000,5500,6000,6500,7000,7500,8000,8500,9000,9500,10000]}}}}
  ]}
 ]}]},
{"spacing":0,"vconcat":[
 {"width":100,"height":10,"data":{"values":[]},"mark":"point","view":{"stroke":null}},
 {"width":100,"height":160,
 "view":{"stroke":"#333333","strokeDash":[4,3],"strokeWidth":1.3},
 "data":{"name":"temps"},
 "encoding":{"y":{"field":"T","type":"nominal","scale":{"type":"point","domain":["200 K","260 K","320 K","380 K","440 K","500 K"],"padding":0.5},"axis":null}},
 "layer":[
  {"mark":{"type":"rule","strokeWidth":2},"encoding":{
    "x":{"datum":12,"type":"quantitative","scale":{"domain":[0,100],"nice":false},"axis":null},"x2":{"datum":47},
    "color":{"field":"T","type":"nominal","scale":{"domain":["200 K","260 K","320 K","380 K","440 K","500 K"],"range":["#3ec0f0","#ffc000","#f25bd2","#404040","#00b050","#e0201b"]},"legend":null},
    "strokeDash":{"field":"T","type":"nominal","scale":{"domain":["200 K","260 K","320 K","380 K","440 K","500 K"],"range":[[1.5,1.5],[3,2],[5,3],[9,4],[9,3,2,3,2,3],[1,0]]},"legend":null}}},
  {"mark":{"type":"text","align":"left","baseline":"middle","fontWeight":"bold","fontSize":12.5,"font":"Lato","color":"#111111"},"encoding":{
    "x":{"datum":57,"type":"quantitative","scale":{"domain":[0,100],"nice":false},"axis":null},
    "text":{"field":"T"}}}
 ]}
]}
]}
]
}
